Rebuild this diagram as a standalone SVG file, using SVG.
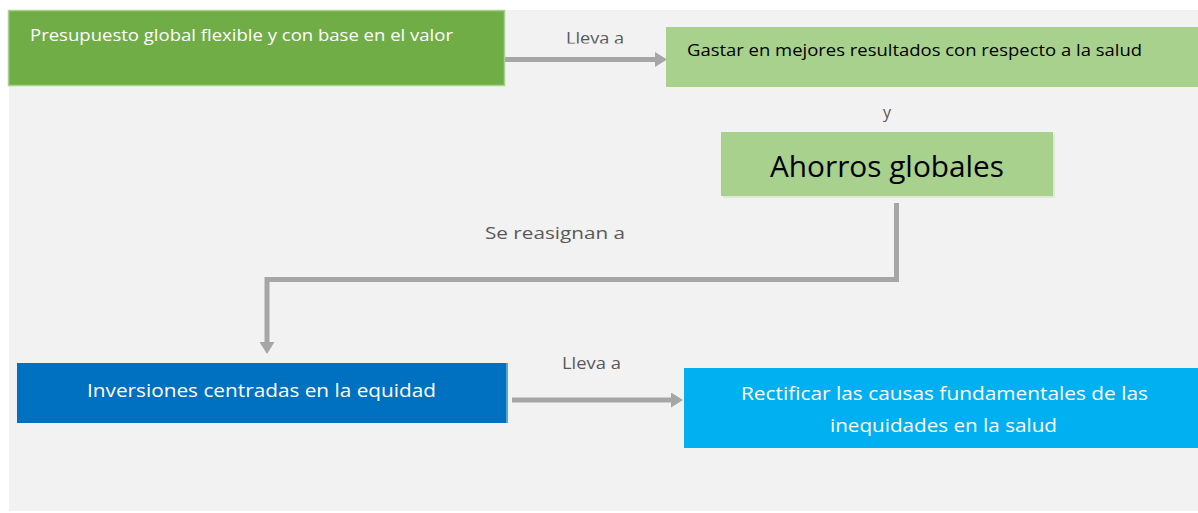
<svg xmlns="http://www.w3.org/2000/svg" width="1198" height="513" viewBox="0 0 1198 513">
<defs>
<style>
.t{font-family:"Open Sans","Noto Sans","Liberation Sans",sans-serif;}
.lbl{fill:#595959;font-size:16px;}
.wh{fill:#ffffff;}
.bk{fill:#000000;}
.conn{fill:none;stroke:#a6a6a6;stroke-width:5;}
</style>
<marker id="ah" markerWidth="2.4" markerHeight="3" refX="0.4" refY="1.5" orient="auto" markerUnits="strokeWidth" viewBox="0 0 2.4 3">
<path d="M0,0 L2.4,1.5 L0,3 Z" fill="#a6a6a6"/>
</marker>
<clipPath id="clipTop"><rect x="540" y="20" width="120" height="23.5"/></clipPath>
</defs>
<rect x="0" y="0" width="1198" height="513" fill="#ffffff"/>
<rect x="9" y="10" width="1189" height="501" fill="#f2f2f2"/>

<g id="connectors">
<line class="conn" x1="505" y1="59.5" x2="657" y2="59.5" marker-end="url(#ah)"/>
<polyline class="conn" points="896.5,203 896.5,279.5 267,279.5 267,344" marker-end="url(#ah)"/>
<line class="conn" x1="512" y1="400" x2="673" y2="400" marker-end="url(#ah)"/>
<text class="t lbl" x="566" y="44" textLength="58" lengthAdjust="spacingAndGlyphs" clip-path="url(#clipTop)">Lleva a</text>
<text class="t lbl" x="887" y="118" text-anchor="middle">y</text>
<text class="t lbl" x="485" y="239" font-size="17" textLength="140" lengthAdjust="spacingAndGlyphs">Se reasignan a</text>
<text class="t lbl" x="562" y="369" textLength="59" lengthAdjust="spacingAndGlyphs">Lleva a</text>
</g>

<g id="node-presupuesto">
<rect x="8.5" y="10.5" width="496" height="75" fill="#70ad47" stroke="#a9d18e" stroke-width="1.5"/>
<text class="t wh" x="30" y="41" font-size="16" textLength="423" lengthAdjust="spacingAndGlyphs">Presupuesto global flexible y con base en el valor</text>
</g>

<g id="node-gastar">
<rect x="666" y="27" width="532" height="60" fill="#a9d18e"/>
<text class="t bk" x="687" y="56" font-size="15.5" textLength="455" lengthAdjust="spacingAndGlyphs">Gastar en mejores resultados con respecto a la salud</text>
</g>

<g id="node-ahorros">
<rect x="723" y="134" width="332" height="64" fill="#dfe9d6"/>
<rect x="721" y="132" width="332" height="64" fill="#a9d18e"/>
<text class="t bk" x="887" y="177" font-size="29" text-anchor="middle" textLength="234" lengthAdjust="spacingAndGlyphs">Ahorros globales</text>
</g>

<g id="node-inversiones">
<rect x="17" y="363" width="491" height="60" fill="#5ba3d6"/>
<rect x="17" y="363" width="489" height="60" fill="#0070c0"/>
<text class="t wh" x="261.5" y="397" font-size="18" text-anchor="middle" textLength="349" lengthAdjust="spacingAndGlyphs">Inversiones centradas en la equidad</text>
</g>

<g id="node-rectificar">
<rect x="684" y="368" width="514" height="80" fill="#00b0f0"/>
<text class="t wh" x="944.5" y="400" font-size="18" text-anchor="middle" textLength="407" lengthAdjust="spacingAndGlyphs">Rectificar las causas fundamentales de las</text>
<text class="t wh" x="943.5" y="432" font-size="18" text-anchor="middle" textLength="227" lengthAdjust="spacingAndGlyphs">inequidades en la salud</text>
</g>
</svg>
